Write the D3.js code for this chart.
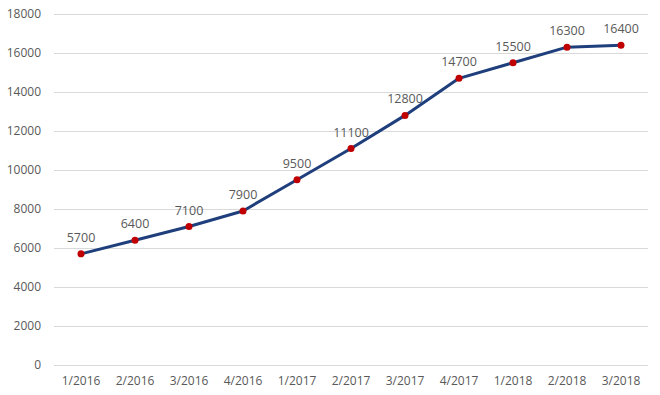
<!DOCTYPE html>
<html>
  <head>
    <title>Line chart</title>
    <script src="https://d3js.org/d3.v7.min.js"></script>
    <style>
      body { margin: 0; background: #fff; }
      text { font-family: "Open Sans", sans-serif; fill: #595959; }
    </style>
  </head>

  <body>
    <svg width="660" height="395"></svg>

    <script type="text/javascript">
      // data
      var categories = ["1/2016", "2/2016", "3/2016", "4/2016", "1/2017", "2/2017",
                        "3/2017", "4/2017", "1/2018", "2/2018", "3/2018"];
      var values = [5700, 6400, 7100, 7900, 9500, 11100, 12800, 14700, 15500, 16300, 16400];
      var yTicks = [0, 2000, 4000, 6000, 8000, 10000, 12000, 14000, 16000, 18000];

      var data = categories.map(function (c, i) {
        return { cat: c, val: values[i] };
      });

      var svg = d3.select("svg");

      var xScale = d3.scaleBand().domain(categories).range([54, 648]);
      var yScale = d3.scaleLinear().domain([0, 18000]).range([365, 14]);

      // gridlines + y labels
      var yAxis = svg.append("g")
        .attr("transform", "translate(54,0)")
        .call(d3.axisLeft(yScale).tickValues(yTicks).tickSize(-594).tickPadding(13).tickFormat(d3.format("d")));
      yAxis.select(".domain").remove();
      yAxis.selectAll("line").attr("stroke", "#d9d9d9").attr("stroke-width", 1);
      yAxis.selectAll("text").style("font-size", "12px").attr("fill", "#595959");

      // x labels
      var xAxis = svg.append("g")
        .attr("transform", "translate(0,365)")
        .call(d3.axisBottom(xScale).tickSize(0).tickPadding(11));
      xAxis.select(".domain").remove();
      xAxis.selectAll("text").style("font-size", "12px").attr("fill", "#595959");

      function cx(d) { return xScale(d.cat) + xScale.bandwidth() / 2; }

      // the line
      var lineGenerator = d3.line()
        .x(cx)
        .y(function (d) { return yScale(d.val); });
      svg.append("path")
        .attr("fill", "none")
        .attr("stroke", "#1f3e7c")
        .attr("stroke-width", 3)
        .attr("stroke-linejoin", "round")
        .attr("stroke-linecap", "round")
        .attr("d", lineGenerator(data));

      // markers
      svg.append("g").selectAll("circle")
        .data(data)
        .enter()
        .append("circle")
        .attr("cx", cx)
        .attr("cy", function (d) { return yScale(d.val); })
        .attr("r", 3.5)
        .style("fill", "#c00000");

      // value labels
      svg.append("g").selectAll("text")
        .data(data)
        .enter()
        .append("text")
        .attr("x", cx)
        .attr("y", function (d) { return yScale(d.val) - 12; })
        .attr("text-anchor", "middle")
        .style("font-size", "12.5px")
        .text(function (d) { return d.val; });
    </script>
  </body>
</html>
